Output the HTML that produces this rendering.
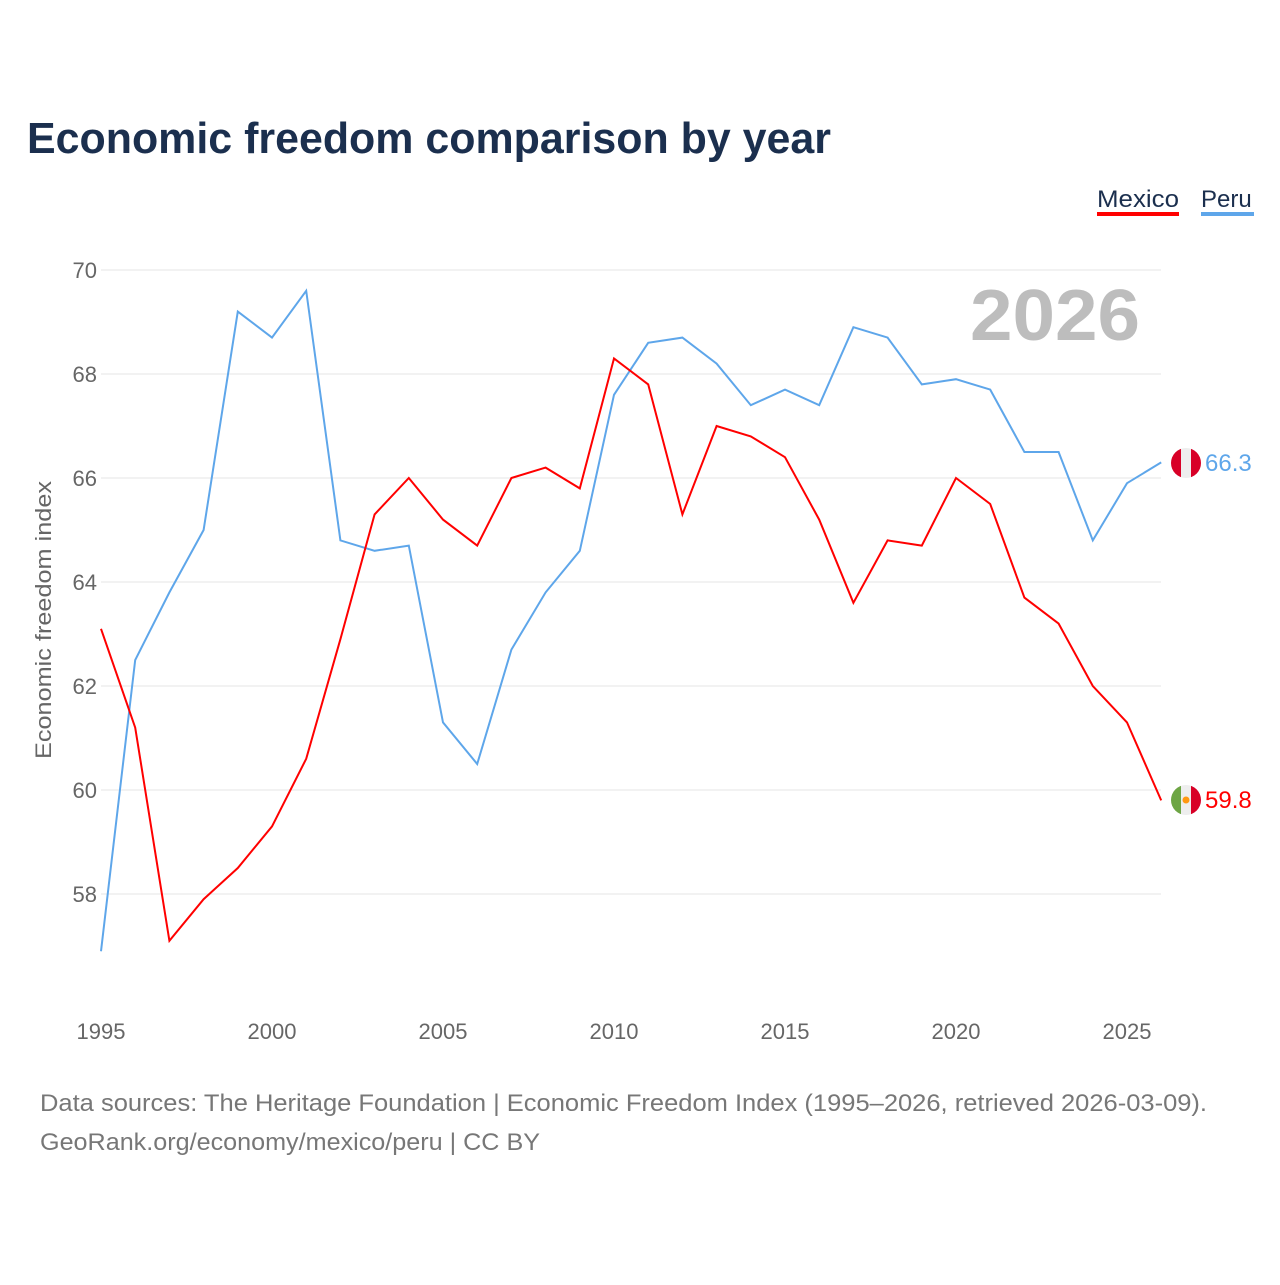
<!DOCTYPE html>
<html><head><meta charset="utf-8"><style>
body{margin:0;background:#fff;font-family:"Liberation Sans",sans-serif}
</style></head><body>
<svg width="1280" height="1280" viewBox="0 0 1280 1280" xmlns="http://www.w3.org/2000/svg">
<text x="27" y="153" font-size="44" font-weight="bold" fill="#1b2f4e" textLength="804" lengthAdjust="spacingAndGlyphs">Economic freedom comparison by year</text>
<g>
<text x="1097" y="207" font-size="24" fill="#1b2f4e" textLength="82" lengthAdjust="spacingAndGlyphs">Mexico</text>
<rect x="1097" y="212" width="82" height="4" fill="#ff0000"/>
<text x="1201" y="207" font-size="24" fill="#1b2f4e">Peru</text>
<rect x="1201" y="212" width="53" height="4" fill="#5ea6ea"/>
</g>
<g id="grid"></g>
<text x="1055" y="340" font-size="72" font-weight="bold" fill="#bdbdbd" text-anchor="middle" textLength="170" lengthAdjust="spacingAndGlyphs">2026</text>
<text transform="translate(51,620) rotate(-90)" font-size="22" fill="#666" text-anchor="middle" textLength="278" lengthAdjust="spacingAndGlyphs">Economic freedom index</text>
<g id="series"></g>
<g>
<clipPath id="cp1"><circle cx="1186" cy="463" r="15"/></clipPath>
<g clip-path="url(#cp1)"><rect x="1171" y="448" width="30" height="30" fill="#eee"/><rect x="1171" y="448" width="10" height="30" fill="#d80027"/><rect x="1191" y="448" width="10" height="30" fill="#d80027"/></g>
</g>
<g>
<clipPath id="cp2"><circle cx="1186" cy="800" r="15"/></clipPath>
<g clip-path="url(#cp2)"><rect x="1171" y="785" width="30" height="30" fill="#eee"/><rect x="1171" y="785" width="10" height="30" fill="#6da544"/><rect x="1191" y="785" width="10" height="30" fill="#d80027"/><circle cx="1186" cy="800" r="3.5" fill="#ff9811"/></g>
</g>
<text x="1205" y="471" font-size="24" fill="#5ea6ea">66.3</text>
<text x="1205" y="808" font-size="24" fill="#ff0000">59.8</text>
<text x="40" y="1111" font-size="24" fill="#777" textLength="1167" lengthAdjust="spacingAndGlyphs">Data sources: The Heritage Foundation | Economic Freedom Index (1995–2026, retrieved 2026-03-09).</text>
<text x="40" y="1150" font-size="24" fill="#777" textLength="500" lengthAdjust="spacingAndGlyphs">GeoRank.org/economy/mexico/peru | CC BY</text>
</svg>
<script>
const years=[1995,1996,1997,1998,1999,2000,2001,2002,2003,2004,2005,2006,2007,2008,2009,2010,2011,2012,2013,2014,2015,2016,2017,2018,2019,2020,2021,2022,2023,2024,2025,2026];
const mexico=[63.1,61.2,57.1,57.9,58.5,59.3,60.6,62.9,65.3,66.0,65.2,64.7,66.0,66.2,65.8,68.3,67.8,65.3,67.0,66.8,66.4,65.2,63.6,64.8,64.7,66.0,65.5,63.7,63.2,62.0,61.3,59.8];
const peru=[56.9,62.5,63.8,65.0,69.2,68.7,69.6,64.8,64.6,64.7,61.3,60.5,62.7,63.8,64.6,67.6,68.6,68.7,68.2,67.4,67.7,67.4,68.9,68.7,67.8,67.9,67.7,66.5,66.5,64.8,65.9,66.3];
const yTicks=[58,60,62,64,66,68,70];
const xTicks=[1995,2000,2005,2010,2015,2020,2025];
const NS="http://www.w3.org/2000/svg";
const x=v=>101+(v-1995)*34.2;
const y=v=>270+(70-v)*52;
const grid=document.getElementById('grid');
yTicks.forEach(t=>{
 const l=document.createElementNS(NS,'line');
 l.setAttribute('x1',101);l.setAttribute('x2',1161);l.setAttribute('y1',y(t));l.setAttribute('y2',y(t));
 l.setAttribute('stroke','#e6e6e6');
 
 
 grid.appendChild(l);
 const tx=document.createElementNS(NS,'text');
 tx.setAttribute('x',97);tx.setAttribute('y',y(t)+8);tx.setAttribute('text-anchor','end');
 tx.setAttribute('font-size','22');tx.setAttribute('fill','#666');tx.textContent=t;
 
 
 grid.appendChild(tx);
});
xTicks.forEach(t=>{
 const tx=document.createElementNS(NS,'text');
 tx.setAttribute('x',x(t));tx.setAttribute('y',1039);tx.setAttribute('text-anchor','middle');
 tx.setAttribute('font-size','22');tx.setAttribute('fill','#666');tx.textContent=t;
 
 
 grid.appendChild(tx);
});
const s=document.getElementById('series');
function line(data,color,name){
 const p=document.createElementNS(NS,'polyline');
 p.setAttribute('points',data.map((v,i)=>x(years[i])+','+y(v)).join(' '));
 p.setAttribute('fill','none');p.setAttribute('stroke',color);p.setAttribute('stroke-width','2');
 
 
 s.appendChild(p);
}
line(peru,'#5ea6ea','peru-line');
line(mexico,'#ff0000','mexico-line');
</script>
</body></html>
